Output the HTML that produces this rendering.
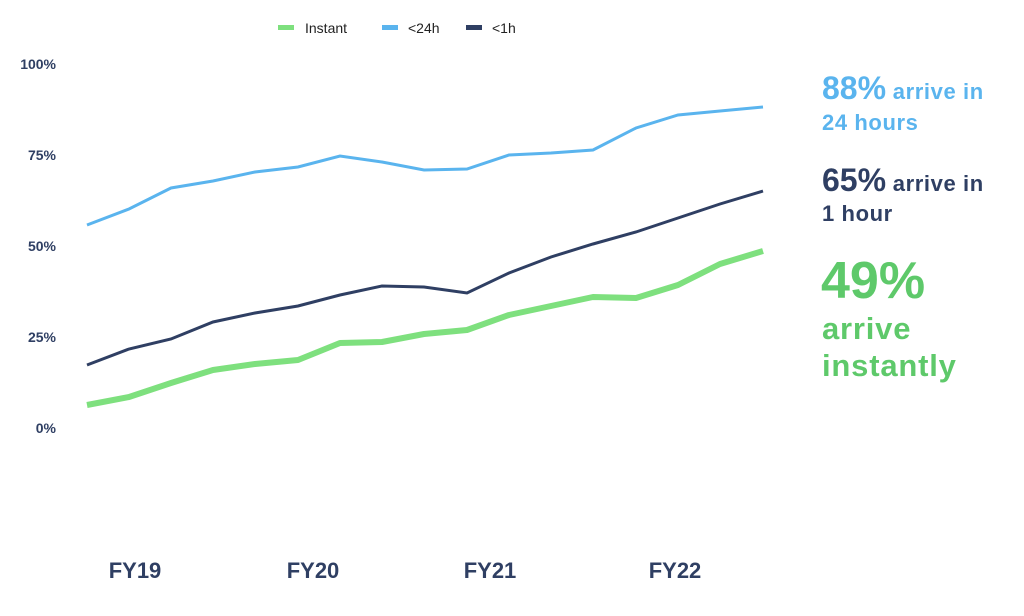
<!DOCTYPE html>
<html><head><style>
body{margin:0;background:#fff;width:1024px;height:616px;overflow:hidden;font-family:"Liberation Sans",sans-serif}
</style></head><body>
<svg width="1024" height="616" xmlns="http://www.w3.org/2000/svg" style="position:absolute;left:0;top:0">
<g font-family="Liberation Sans, sans-serif" font-size="14" fill="#222">
<rect x="278" y="25" width="16" height="5" fill="#7ee07e"/><text x="305" y="33">Instant</text>
<rect x="382" y="25" width="16" height="5" fill="#5ab4ee"/><text x="408" y="33">&lt;24h</text>
<rect x="466" y="25" width="16" height="5" fill="#2f3f63"/><text x="492" y="33">&lt;1h</text>
</g>
<g font-family="Liberation Sans, sans-serif" font-size="14" font-weight="bold" fill="#2f3f63" text-anchor="end">
<text x="56" y="69">100%</text><text x="56" y="160">75%</text><text x="56" y="251">50%</text><text x="56" y="342">25%</text><text x="56" y="433">0%</text>
</g>
<g font-family="Liberation Sans, sans-serif" font-size="22" font-weight="bold" fill="#2f3f63" text-anchor="middle">
<text x="135" y="578">FY19</text><text x="313" y="578">FY20</text><text x="490" y="578">FY21</text><text x="675" y="578">FY22</text>
</g>
<polyline fill="none" stroke="#5ab4ee" stroke-width="3" points="87,225 129,209 171,188 213,181 255,172 298,167 340,156 382,162 424,170 467,169 509,155 551,153 593,150 636,128 678,115 720,111 763,107"/>
<polyline fill="none" stroke="#2f3f63" stroke-width="3" points="87,365 129,349 171,339 213,322 255,313 298,306 340,295 382,286 424,287 467,293 509,273 551,257 593,244 636,232 678,218 720,204 763,191"/>
<polyline fill="none" stroke="#7ee07e" stroke-width="6" stroke-linejoin="round" points="87,405 129,397 171,383 213,370 255,364 298,360 340,343 382,342 424,334 467,330 509,315 551,306 593,297 636,298 678,285 720,264 763,251"/>
<g font-family="Liberation Sans, sans-serif" font-weight="bold">
<text x="822" y="99" fill="#5ab4ee"><tspan font-size="32">88%</tspan><tspan font-size="22" letter-spacing="0.6"> arrive in</tspan></text>
<text x="822" y="130" fill="#5ab4ee" font-size="22" letter-spacing="0.6">24 hours</text>
<text x="822" y="191" fill="#2f3f63"><tspan font-size="32">65%</tspan><tspan font-size="22" letter-spacing="0.6"> arrive in</tspan></text>
<text x="822" y="221" fill="#2f3f63" font-size="22" letter-spacing="0.6">1 hour</text>
<text x="821" y="298" fill="#5ec96a" font-size="52">49%</text>
<text x="822" y="339" fill="#5ec96a" font-size="31" letter-spacing="0.8">arrive</text>
<text x="822" y="376" fill="#5ec96a" font-size="31" letter-spacing="0.8">instantly</text>
</g>
</svg>
</body></html>
